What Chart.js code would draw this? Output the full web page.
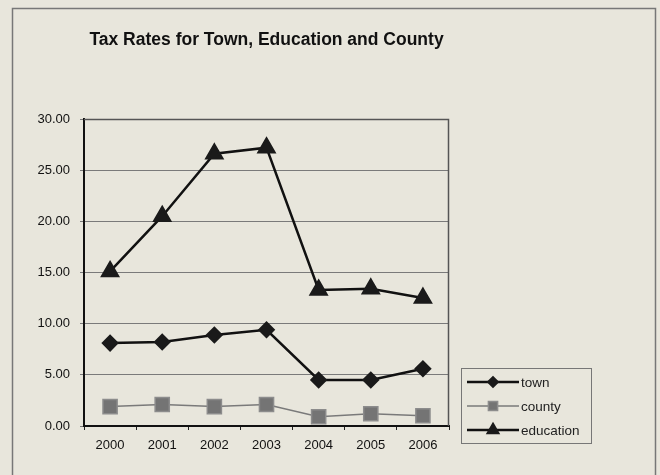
<!DOCTYPE html>
<html>
<head>
<meta charset="utf-8">
<script src="https://cdn.jsdelivr.net/npm/chart.js@4/dist/chart.umd.min.js"></script>
<style>
  html, body { margin: 0; padding: 0; background: #e8e6dc; }
  #wrap { width: 660px; height: 475px; position: relative; }
</style>
</head>
<body>
<div id="wrap"><canvas id="myChart" width="660" height="475"></canvas></div>
<script>
// data
const years = ['2000', '2001', '2002', '2003', '2004', '2005', '2006'];
const town = [8.1, 8.2, 8.9, 9.4, 4.5, 4.5, 5.6];
const county = [1.9, 2.1, 1.9, 2.1, 0.9, 1.2, 1.0];
const education = [15.1, 20.5, 26.6, 27.2, 13.3, 13.4, 12.5];

const fontFamily = 'Arial, "Liberation Sans", sans-serif';
const tickFont = { family: fontFamily, size: 13 };

// page background + outer frame + plot area frame
const framePlugin = {
    id: 'frame',
    beforeDraw: (chart) => {
        const ctx = chart.ctx;
        ctx.save();
        ctx.fillStyle = '#e8e6dc';
        ctx.fillRect(0, 0, chart.width, chart.height);
        ctx.strokeStyle = '#777';
        ctx.lineWidth = 1.5;
        ctx.strokeRect(12.5, 8.5, 643, 480);
        ctx.restore();
    },
    afterDatasetsDraw: (chart) => {
        const a = chart.chartArea;
        const ctx = chart.ctx;
        ctx.save();
        ctx.strokeStyle = '#555';
        ctx.lineWidth = 1.5;
        ctx.beginPath();
        ctx.moveTo(a.left, a.top + 0.5);
        ctx.lineTo(a.right - 0.5, a.top + 0.5);
        ctx.lineTo(a.right - 0.5, a.bottom);
        ctx.stroke();
        ctx.restore();
    }
};

// excel style legend box, bottom right of the plot
const legendPlugin = {
    id: 'boxLegend',
    afterDraw: (chart) => {
        const ctx = chart.ctx;
        const a = chart.chartArea;
        const x = a.right + 12, y = a.bottom - 58;
        ctx.save();
        ctx.strokeStyle = '#777';
        ctx.lineWidth = 1;
        ctx.strokeRect(x + 0.5, y + 0.5, 130, 75);
        chart.data.datasets.forEach((ds, i) => {
            const cy = y + 14 + i * 24;
            ctx.strokeStyle = ds.borderColor;
            ctx.lineWidth = ds.borderWidth;
            ctx.beginPath();
            ctx.moveTo(x + 6, cy);
            ctx.lineTo(x + 58, cy);
            ctx.stroke();
            ctx.fillStyle = ds.pointBackgroundColor;
            ctx.strokeStyle = ds.pointBorderColor;
            Chart.helpers.drawPoint(ctx, {
                pointStyle: ds.pointStyle,
                radius: ds.pointRadius * 0.65,
                borderWidth: 1
            }, x + 32, cy);
            ctx.fillStyle = '#222';
            ctx.font = '13.5px ' + fontFamily;
            ctx.textBaseline = 'middle';
            ctx.fillText(ds.label, x + 60, cy + 1);
        });
        ctx.restore();
    }
};

const ctx = document.getElementById('myChart');

const myChart = new Chart(ctx, {
    type: 'line',
    data: {
        labels: years,
        datasets: [
            {
                label: 'town', data: town,
                borderColor: '#111', borderWidth: 2.5,
                pointStyle: 'rectRot', pointRadius: 7,
                pointBackgroundColor: '#1a1a1a', pointBorderColor: '#1a1a1a'
            },
            {
                label: 'county', data: county,
                borderColor: '#7a7a7a', borderWidth: 1.5,
                pointStyle: 'rect', pointRadius: 10,
                pointBackgroundColor: '#747474', pointBorderColor: '#8c8c8c'
            },
            {
                label: 'education', data: education,
                borderColor: '#111', borderWidth: 2.5,
                pointStyle: 'triangle', pointRadius: 9,
                pointBackgroundColor: '#1a1a1a', pointBorderColor: '#1a1a1a'
            }
        ]
    },
    options: {
        responsive: false,
        animation: false,
        layout: { padding: { top: 30, right: 211, bottom: 0, left: 0 } },
        plugins: {
            legend: { display: false },
            tooltip: { enabled: false },
            title: {
                display: true,
                fullSize: false,
                text: 'Tax Rates for Town, Education and County',
                color: '#111',
                font: { family: fontFamily, size: 17.5, weight: 'bold' },
                padding: { top: 0, bottom: 68 }
            }
        },
        scales: {
            x: {
                offset: true,
                afterFit: (scale) => { scale.height = 49; },
                grid: { display: true, offset: true, drawOnChartArea: false, tickLength: 4, color: '#222' },
                border: { color: '#111', width: 2 },
                ticks: { color: '#111', font: tickFont, padding: 8 }
            },
            y: {
                min: 0, max: 30,
                afterFit: (scale) => { scale.width = 84; },
                grid: { color: '#7a7a7a', tickLength: 4, lineWidth: 1 },
                border: { color: '#111', width: 2 },
                ticks: {
                    stepSize: 5, color: '#111', font: tickFont, padding: 10,
                    callback: (v) => v.toFixed(2)
                }
            }
        }
    },
    plugins: [framePlugin, legendPlugin]
});
</script>
</body>
</html>
